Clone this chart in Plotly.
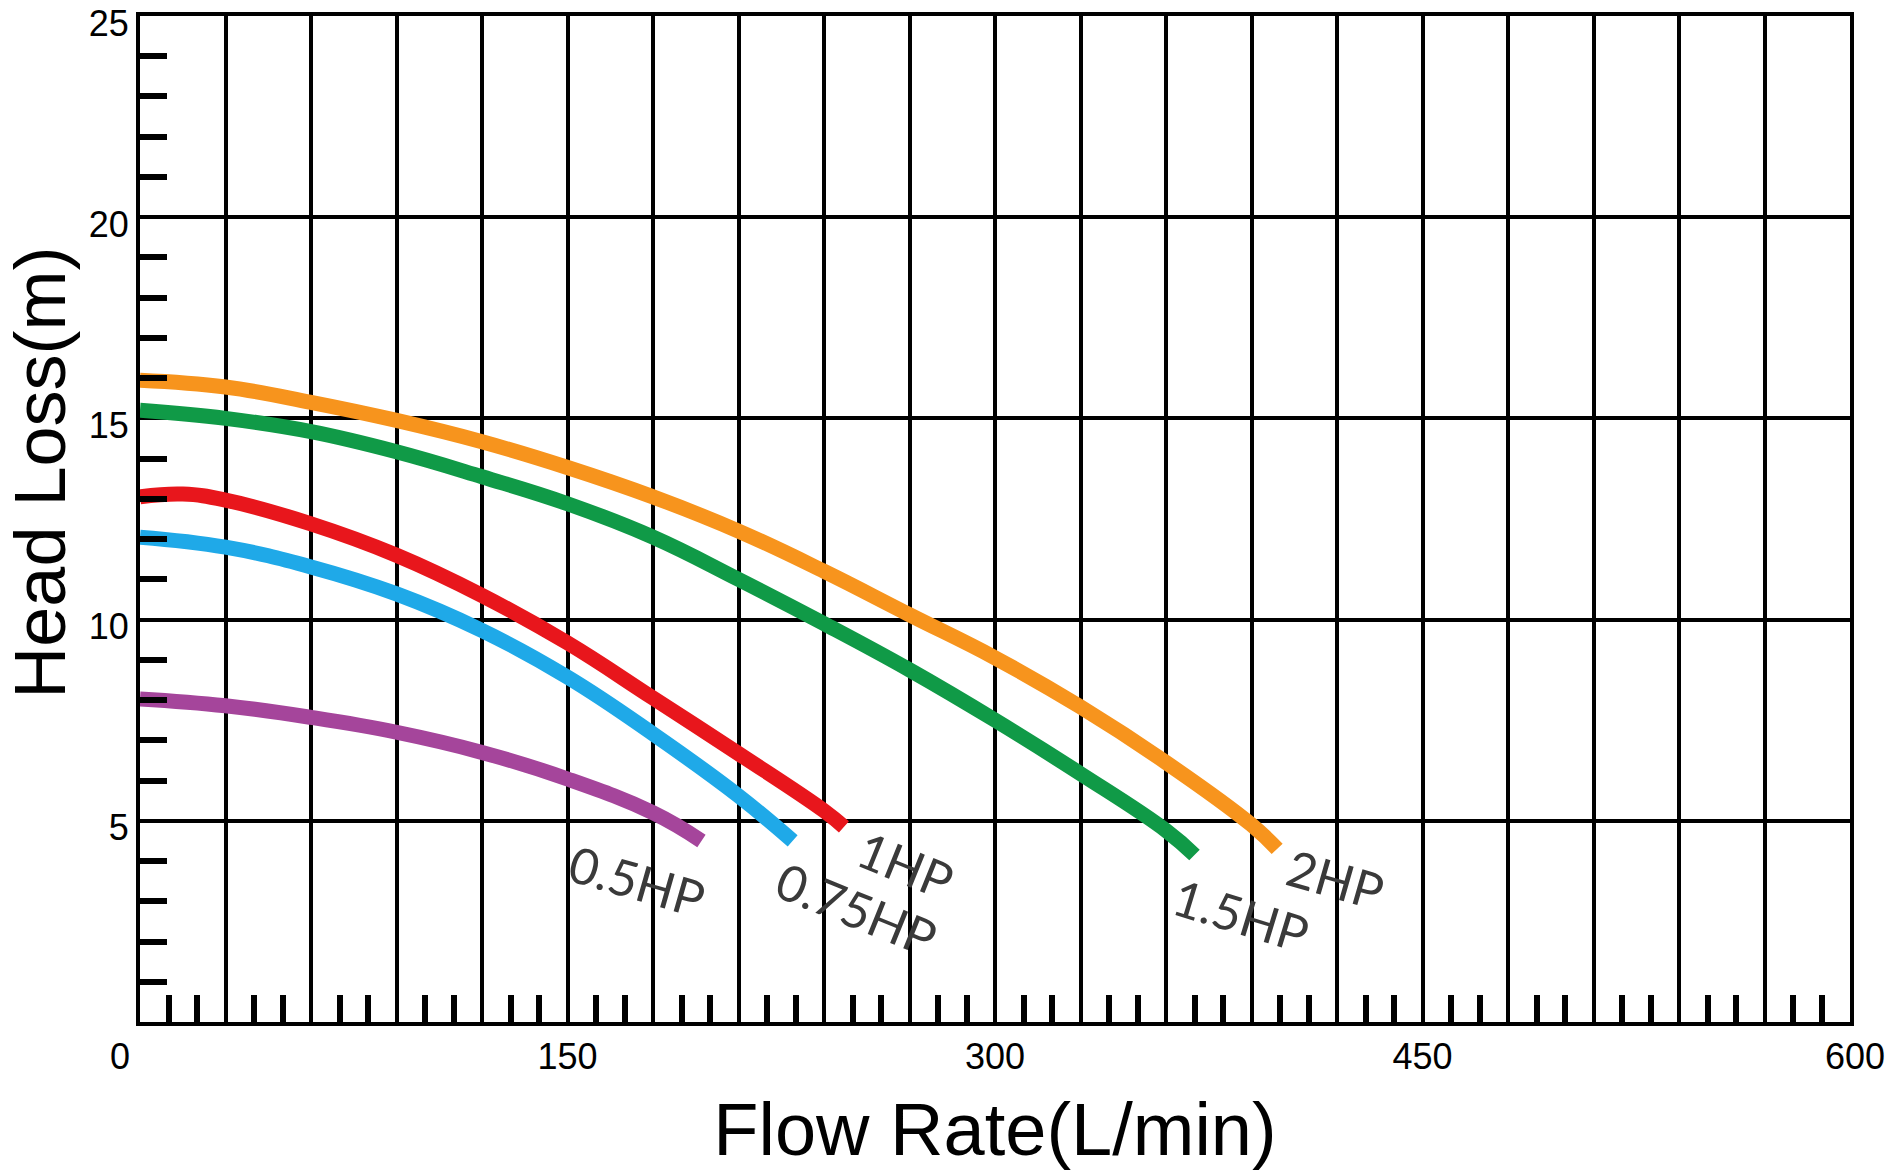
import plotly.graph_objects as go

# ---- data ----
FLOW_2HP = [0, 30, 60, 90, 120, 150, 180, 210, 240, 270, 300, 330, 360, 390, 399]
HEAD_2HP = [15.95, 15.78, 15.4, 14.95, 14.42, 13.78, 13.05, 12.2, 11.2, 10.12, 9.05, 7.83, 6.45, 4.9, 4.3]

FLOW_15HP = [0, 30, 60, 90, 120, 150, 180, 210, 240, 270, 300, 330, 360, 370]
HEAD_15HP = [15.2, 15.0, 14.67, 14.17, 13.55, 12.88, 12.05, 11.0, 9.9, 8.75, 7.5, 6.17, 4.76, 4.15]

FLOW_1HP = [0, 15, 30, 60, 90, 120, 150, 180, 210, 240, 247]
HEAD_1HP = [13.05, 13.12, 12.97, 12.38, 11.6, 10.6, 9.42, 8.05, 6.67, 5.25, 4.85]

FLOW_075HP = [0, 30, 60, 90, 120, 150, 180, 210, 229]
HEAD_075HP = [12.05, 11.8, 11.31, 10.64, 9.73, 8.57, 7.16, 5.62, 4.5]

FLOW_05HP = [0, 30, 60, 90, 120, 150, 180, 197]
HEAD_05HP = [8.03, 7.86, 7.57, 7.2, 6.7, 6.04, 5.2, 4.5]

SERIES_NAMES = ["0.5HP", "0.75HP", "1HP", "1.5HP", "2HP"]

X_GRID = list(range(0, 601, 30))
X_LABELED = [0, 150, 300, 450, 600]
X_MINOR_STEP = 10
Y_GRID = [0, 5, 10, 15, 20, 25]
Y_LABELED = [5, 10, 15, 20, 25]
Y_MINOR_STEP = 1

X_TITLE = "Flow Rate(L/min)"
Y_TITLE = "Head Loss(m)"

# ---- styling ----
colors = {
    "0.5HP": "#A5459B",
    "0.75HP": "#1FA9E8",
    "1HP": "#E8161C",
    "1.5HP": "#109A47",
    "2HP": "#F7941D",
}
series = {
    "0.5HP": (FLOW_05HP, HEAD_05HP),
    "0.75HP": (FLOW_075HP, HEAD_075HP),
    "1HP": (FLOW_1HP, HEAD_1HP),
    "1.5HP": (FLOW_15HP, HEAD_15HP),
    "2HP": (FLOW_2HP, HEAD_2HP),
}
# label offsets (px) relative to curve end, and text angle
label_style = {
    "0.5HP": (-64, -40, 16),
    "0.75HP": (64, -68, 22),
    "1HP": (62, -38, 22),
    "1.5HP": (46, -60, 17),
    "2HP": (58, -30, 16),
}

fig = go.Figure()
for name in SERIES_NAMES:
    xs, ys = series[name]
    fig.add_trace(go.Scatter(
        x=xs, y=ys, mode="lines", name=name,
        line=dict(color=colors[name], width=15, shape="spline", smoothing=1.2),
        showlegend=False, hoverinfo="skip",
    ))
    dx, dy, ang = label_style[name]
    fig.add_annotation(
        x=xs[-1], y=ys[-1], text=name, showarrow=False,
        xshift=dx, yshift=dy, textangle=ang,
        font=dict(family="Lato", size=50, color="#3a3a3a"),
    )

NB = "\u00a0"
def xlabel(v):
    if v not in X_LABELED:
        return ""
    if v == X_LABELED[0]:
        return str(v) + NB * 4
    if v == X_LABELED[-1]:
        return NB + str(v)
    return str(v)

x_text = [xlabel(v) for v in X_GRID]
y_text = [str(v) if v in Y_LABELED else "" for v in Y_GRID]
x_minor = [v for v in range(X_GRID[0], X_GRID[-1] + 1, X_MINOR_STEP) if v not in X_GRID]
y_minor = [v for v in range(Y_GRID[0], Y_GRID[-1] + 1, Y_MINOR_STEP) if v not in Y_GRID]

fig.update_layout(
    width=1904, height=1176,
    margin=dict(l=140, r=54, t=16, b=154, autoexpand=False),
    paper_bgcolor="white", plot_bgcolor="white",
    font=dict(family="Liberation Sans, Arial", color="black"),
)
fig.update_xaxes(
    range=[0, 600], tickmode="array", tickvals=X_GRID, ticktext=x_text,
    ticks="", showgrid=True, gridcolor="black", gridwidth=3.5,
    showline=True, linecolor="black", linewidth=4, mirror=True,
    zeroline=False, automargin=False, ticklabeloverflow="allow",
    tickfont=dict(size=36, color="black"),
    minor=dict(tickmode="array", tickvals=x_minor, ticks="inside", ticklen=27,
               tickwidth=6, tickcolor="black", showgrid=False),
    title=dict(text=X_TITLE, font=dict(size=74, color="black"), standoff=28),
)
fig.update_yaxes(
    range=[0, 25], tickmode="array", tickvals=Y_GRID, ticktext=y_text,
    ticks="", showgrid=True, gridcolor="black", gridwidth=3.5,
    showline=True, linecolor="black", linewidth=4, mirror=True,
    zeroline=False, automargin=False, ticklabeloverflow="allow",
    ticklabelshift=7,
    tickfont=dict(size=36, color="black"),
    minor=dict(tickmode="array", tickvals=y_minor, ticks="inside", ticklen=27,
               tickwidth=6, tickcolor="black", showgrid=False),
)
# y-axis title placed as in the reference (a little above the axis centre)
fig.add_annotation(
    xref="paper", yref="paper", x=-0.0585, y=0.546, text=Y_TITLE,
    showarrow=False, textangle=-90, xanchor="center", yanchor="middle",
    font=dict(family="Liberation Sans, Arial", size=72, color="black"),
)

fig.write_html("out.html")
